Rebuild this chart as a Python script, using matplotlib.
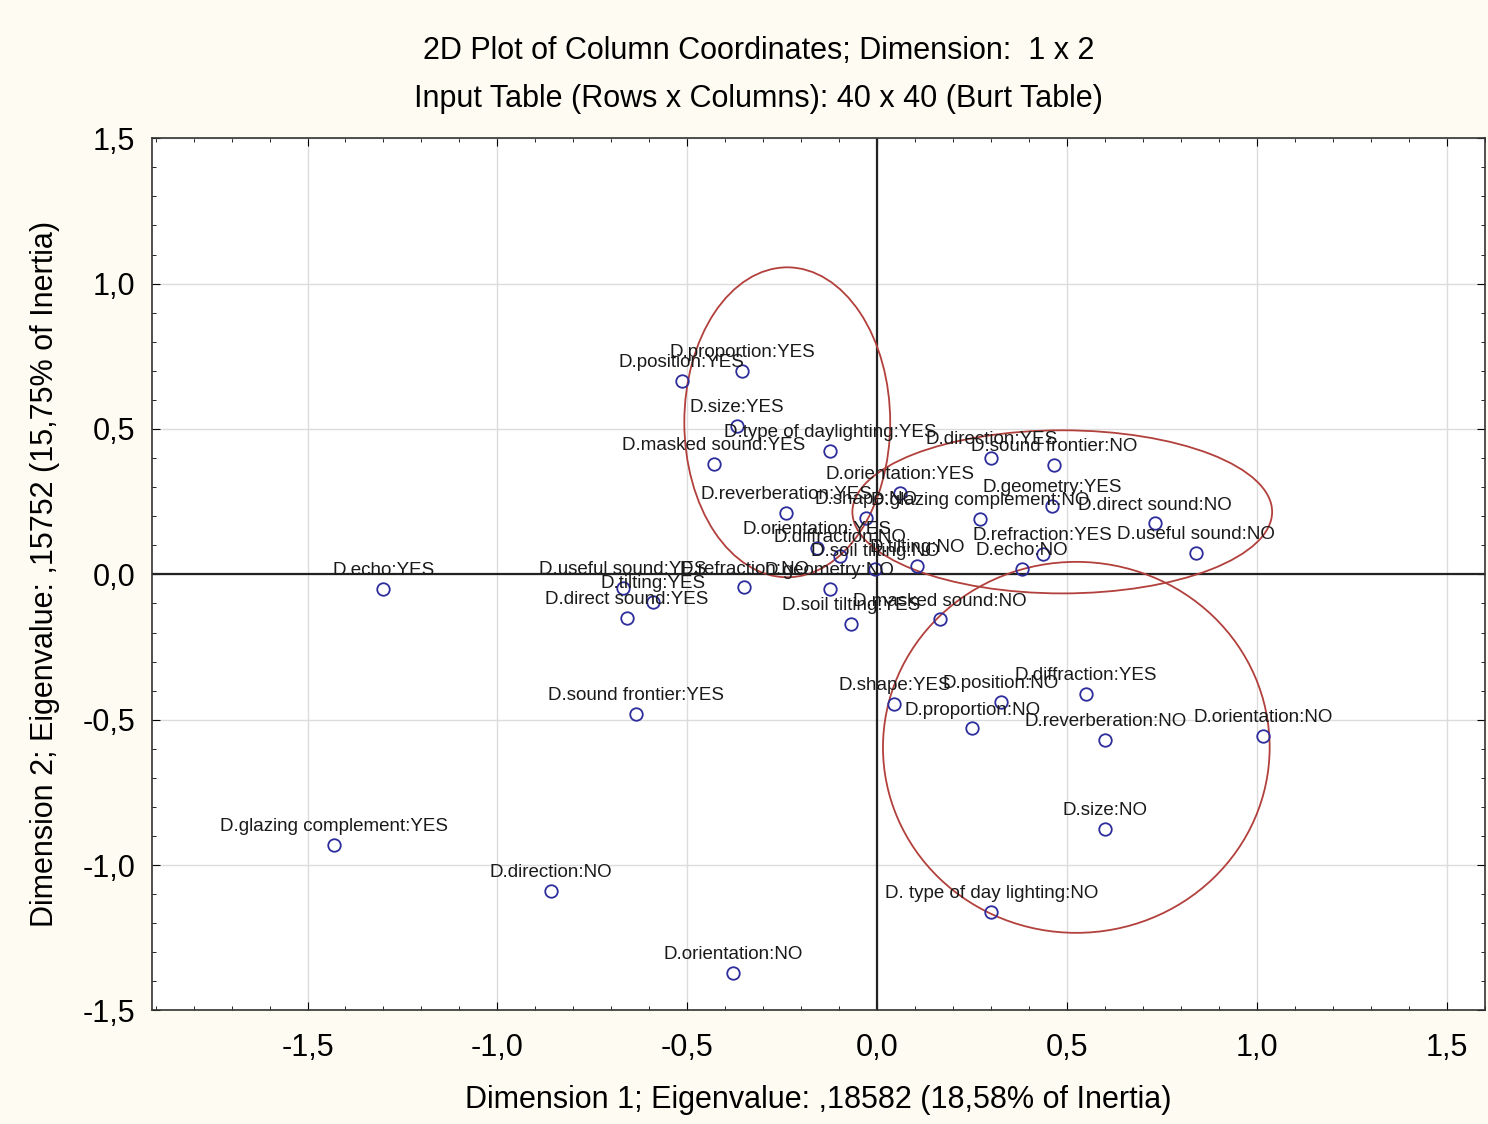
import matplotlib
matplotlib.use("Agg")
import matplotlib.pyplot as plt
from matplotlib.patches import Ellipse
from matplotlib.ticker import MultipleLocator, FuncFormatter

plt.rcParams['font.family'] = ['Liberation Sans', 'DejaVu Sans']

# column coordinates (dimension 1, dimension 2)
labels = ["D.echo:YES", "D.glazing complement:YES", "D.direction:NO", "D.orientation:NO",
          "D.sound frontier:YES", "D.direct sound:YES", "D.tilting:YES", "D.useful sound:YES",
          "D.refraction:NO", "D.position:YES", "D.proportion:YES", "D.size:YES",
          "D.masked sound:YES", "D.type of daylighting:YES", "D.reverberation:YES", "D.shape:NO",
          "D.orientation:YES", "D.glazing complement:NO", "D.direction:YES", "D.sound frontier:NO",
          "D.geometry:YES", "D.direct sound:NO", "D.useful sound:NO", "D.refraction:YES",
          "D.echo:NO", "D.soil tilting:NO", "D.tilting:NO", "D.geometry:NO",
          "D.soil tilting:YES", "D.masked sound:NO", "D.orientation:YES", "D.diffraction:NO",
          "D.shape:YES", "D.position:NO", "D.diffraction:YES", "D.proportion:NO",
          "D.reverberation:NO", "D.orientation:NO", "D.size:NO", "D. type of day lighting:NO"]
dim1 = [-1.30, -1.43, -0.86, -0.38, -0.635, -0.66, -0.59, -0.67,
        -0.35, -0.515, -0.355, -0.37, -0.43, -0.125, -0.24, -0.03,
        0.06, 0.27, 0.30, 0.465, 0.46, 0.73, 0.84, 0.435,
        0.38, -0.005, 0.105, -0.125, -0.07, 0.165, -0.16, -0.097,
        0.045, 0.325, 0.55, 0.25, 0.60, 1.015, 0.60, 0.30]
dim2 = [-0.05, -0.93, -1.09, -1.37, -0.48, -0.15, -0.095, -0.048,
        -0.045, 0.665, 0.70, 0.51, 0.38, 0.425, 0.21, 0.195,
        0.28, 0.19, 0.40, 0.375, 0.235, 0.175, 0.075, 0.07,
        0.02, 0.017, 0.03, -0.05, -0.17, -0.155, 0.09, 0.062,
        -0.445, -0.44, -0.41, -0.53, -0.57, -0.555, -0.875, -1.16]

# hand drawn groups: centre x, centre y, width, height
groups_cx = [-0.237, 0.487, 0.524]
groups_cy = [0.523, 0.215, -0.595]
groups_w = [0.542, 1.105, 1.018]
groups_h = [1.066, 0.561, 1.276]

fig = plt.figure(figsize=(14.88, 11.24), dpi=100, facecolor='#fdfbf2')
ax = fig.add_axes([0.102, 0.101, 0.896, 0.776])
ax.set_facecolor('white')

ax.set_xlim(-1.91, 1.6)
ax.set_ylim(-1.5, 1.5)
ax.xaxis.set_major_locator(MultipleLocator(0.5))
ax.yaxis.set_major_locator(MultipleLocator(0.5))
ax.xaxis.set_minor_locator(MultipleLocator(0.1))
ax.yaxis.set_minor_locator(MultipleLocator(0.1))
comma = FuncFormatter(lambda v, p: ('%.1f' % v).replace('.', ','))
ax.xaxis.set_major_formatter(comma)
ax.yaxis.set_major_formatter(comma)
ax.tick_params(which='both', direction='in', top=True, right=True, labelsize=22)
ax.tick_params(axis='x', pad=16)
ax.tick_params(axis='y', pad=12)
ax.tick_params(which='major', length=6)
ax.tick_params(which='minor', length=3)
ax.grid(True, which='major', color='#dcdcdc', lw=1)
ax.set_axisbelow(True)
for s in ax.spines.values():
    s.set_color('#333333')
    s.set_linewidth(1.2)

ax.axhline(0, color='#222222', lw=1.6, zorder=1)
ax.axvline(0, color='#222222', lw=1.6, zorder=1)

for cx, cy, w, h in zip(groups_cx, groups_cy, groups_w, groups_h):
    ax.add_patch(Ellipse((cx, cy), w, h, fill=False, edgecolor='#b2403c', lw=1.3, zorder=2))

ax.plot(dim1, dim2, 'o', mfc='none', mec='#2d2d9c', mew=1.3, ms=9, zorder=3)
for lab, x, y in zip(labels, dim1, dim2):
    ax.annotate(lab, (x, y), xytext=(0, 10), textcoords='offset points',
                ha='center', va='baseline', fontsize=13.5, color='#1a1a1a', zorder=4)

fig.text(0.51, 0.955, "2D Plot of Column Coordinates; Dimension:  1 x 2",
         ha='center', va='center', fontsize=22)
fig.text(0.51, 0.912, "Input Table (Rows x Columns): 40 x 40 (Burt Table)",
         ha='center', va='center', fontsize=22)
ax.set_xlabel("Dimension 1; Eigenvalue: ,18582 (18,58% of Inertia)", fontsize=22, labelpad=16)
ax.set_ylabel("Dimension 2; Eigenvalue: ,15752 (15,75% of Inertia)", fontsize=22, labelpad=16)

fig.savefig("out.png", dpi=100, facecolor=fig.get_facecolor())
